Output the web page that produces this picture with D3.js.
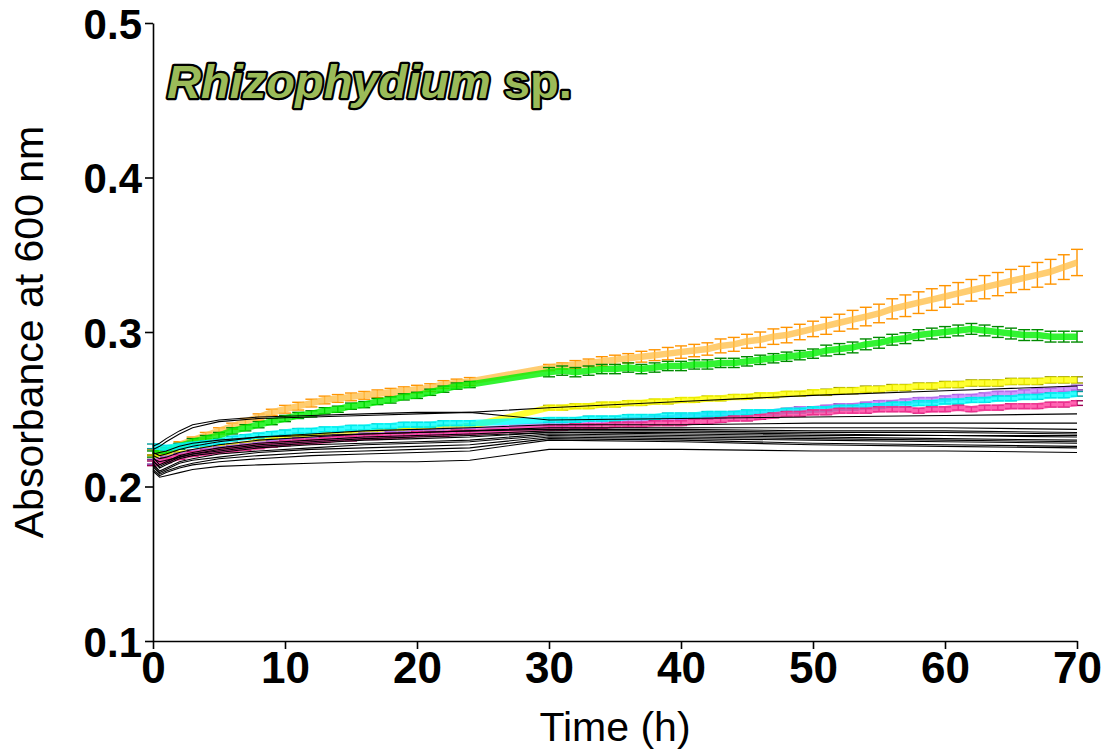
<!DOCTYPE html>
<html>
<head>
<meta charset="utf-8">
<script src="https://cdn.jsdelivr.net/npm/d3@7"></script>
<style>
  body { margin: 0; background: #fff; }
  text { font-family: "Liberation Sans", Arial, sans-serif; }
</style>
</head>
<body>
<svg width="1106" height="754"></svg>
<script>
// time points (h) of the coloured series, no readings between 24 and 30 h
var times = [0,1,2,3,4,5,6,7,8,9,10,11,12,13,14,15,16,17,18,19,20,21,22,23,24,
  30,31,32,33,34,35,36,37,38,39,40,41,42,43,44,45,46,47,48,49,50,
  51,52,53,54,55,56,57,58,59,60,61,62,63,64,65,66,67,68,69,70];

var orangeVals = [0.222,0.224,0.227,0.230,0.233,0.236,0.239,0.242,0.245,0.248,0.250,0.252,0.254,0.256,0.257,0.258,0.259,0.260,0.261,0.262,0.263,0.264,0.266,0.267,0.268,
  0.277,0.278,0.279,0.280,0.281,0.282,0.283,0.284,0.285,0.286,0.287,0.288,0.289,0.291,0.292,0.294,0.295,0.297,0.298,0.300,0.302,
  0.304,0.306,0.308,0.310,0.312,0.315,0.317,0.319,0.321,0.323,0.325,0.327,0.329,0.331,0.333,0.335,0.337,0.339,0.342,0.345];
var orangeErr = [0.002,0.002,0.002,0.002,0.002,0.002,0.002,0.002,0.002,0.002,0.0025,0.0025,0.0025,0.0025,0.0025,0.0025,0.0025,0.0025,0.0025,0.0025,0.0025,0.0025,0.0025,0.0025,0.0025,
  0.002,0.002,0.0025,0.0025,0.003,0.003,0.003,0.0035,0.0035,0.004,0.004,0.004,0.004,0.0045,0.0045,0.0045,0.005,0.005,0.005,0.005,0.005,
  0.0055,0.0055,0.006,0.006,0.006,0.0065,0.007,0.007,0.007,0.007,0.007,0.007,0.0075,0.0075,0.0075,0.0075,0.008,0.008,0.008,0.0085];

var greenVals = [0.221,0.223,0.226,0.229,0.231,0.233,0.236,0.238,0.240,0.242,0.244,0.246,0.247,0.249,0.250,0.252,0.253,0.255,0.256,0.258,0.259,0.261,0.263,0.265,0.266,
  0.274,0.275,0.274,0.275,0.276,0.276,0.277,0.276,0.277,0.278,0.278,0.279,0.279,0.280,0.280,0.281,0.282,0.283,0.284,0.285,0.286,
  0.288,0.289,0.290,0.292,0.293,0.295,0.296,0.298,0.299,0.300,0.301,0.302,0.301,0.300,0.299,0.298,0.298,0.297,0.297,0.297];
var greenErr = [0.002,0.002,0.002,0.002,0.002,0.002,0.002,0.002,0.002,0.002,0.002,0.002,0.002,0.002,0.002,0.002,0.002,0.002,0.002,0.002,0.002,0.002,0.002,0.002,0.002,
  0.003,0.003,0.003,0.003,0.003,0.003,0.003,0.003,0.003,0.003,0.003,0.003,0.003,0.003,0.003,0.003,0.003,0.003,0.003,0.003,0.003,
  0.0035,0.0035,0.0035,0.0035,0.0035,0.0035,0.0035,0.0035,0.0035,0.0035,0.0035,0.0035,0.0035,0.0035,0.0035,0.0035,0.0035,0.0035,0.0035,0.0035];

var yellowVals = [0.219,0.219,0.221,0.222,0.224,0.225,0.226,0.227,0.229,0.230,0.231,0.232,0.232,0.233,0.234,0.234,0.235,0.235,0.236,0.236,0.237,0.237,0.238,0.238,0.239,
  0.251,0.251,0.252,0.252,0.253,0.253,0.254,0.254,0.255,0.255,0.256,0.256,0.257,0.257,0.258,0.258,0.259,0.259,0.260,0.260,0.261,
  0.261,0.262,0.262,0.263,0.263,0.264,0.264,0.265,0.265,0.266,0.266,0.267,0.267,0.267,0.268,0.268,0.268,0.269,0.269,0.269];
var yellowErr = [0.0015,0.0015,0.0015,0.0015,0.0015,0.0015,0.0015,0.0015,0.0015,0.0015,0.0015,0.0015,0.0015,0.0015,0.0015,0.0015,0.0015,0.0015,0.0015,0.0015,0.0015,0.0015,0.0015,0.0015,0.0015,
  0.0015,0.0015,0.0015,0.0015,0.0015,0.0015,0.0015,0.0015,0.0015,0.0015,0.0015,0.0015,0.0015,0.0015,0.0015,0.0015,0.0015,0.0015,0.0015,0.0015,0.0015,
  0.002,0.002,0.002,0.002,0.002,0.002,0.002,0.002,0.002,0.002,0.002,0.002,0.002,0.002,0.002,0.002,0.002,0.002,0.002,0.002];

var purpleVals = [0.216,0.218,0.220,0.222,0.223,0.224,0.225,0.226,0.227,0.228,0.229,0.230,0.230,0.231,0.232,0.232,0.233,0.233,0.234,0.234,0.235,0.235,0.236,0.236,0.236,
  0.240,0.240,0.241,0.241,0.242,0.242,0.243,0.243,0.244,0.244,0.245,0.245,0.246,0.246,0.247,0.247,0.248,0.248,0.249,0.250,0.250,
  0.251,0.252,0.252,0.253,0.254,0.254,0.255,0.256,0.256,0.257,0.258,0.258,0.259,0.260,0.260,0.261,0.262,0.262,0.263,0.264];
var purpleErr = [0.0015,0.0015,0.0015,0.0015,0.0015,0.0015,0.0015,0.0015,0.0015,0.0015,0.0015,0.0015,0.0015,0.0015,0.0015,0.0015,0.0015,0.0015,0.0015,0.0015,0.0015,0.0015,0.0015,0.0015,0.0015,
  0.0015,0.0015,0.0015,0.0015,0.0015,0.0015,0.0015,0.0015,0.0015,0.0015,0.0015,0.0015,0.0015,0.0015,0.0015,0.0015,0.0015,0.0015,0.0015,0.0015,0.0015,
  0.0015,0.0015,0.0015,0.0015,0.0015,0.0015,0.0015,0.0015,0.0015,0.0015,0.0015,0.0015,0.0015,0.0015,0.0015,0.0015,0.0015,0.0015,0.0015,0.0015];

var cyanVals = [0.226,0.225,0.226,0.227,0.228,0.229,0.231,0.232,0.233,0.234,0.235,0.236,0.236,0.237,0.237,0.238,0.238,0.239,0.239,0.240,0.240,0.240,0.241,0.241,0.241,
  0.243,0.243,0.243,0.244,0.244,0.244,0.245,0.245,0.245,0.246,0.246,0.246,0.247,0.247,0.247,0.248,0.248,0.248,0.249,0.249,0.250,
  0.250,0.251,0.251,0.252,0.252,0.253,0.253,0.254,0.254,0.255,0.255,0.256,0.256,0.257,0.257,0.258,0.258,0.259,0.259,0.260];
var cyanErr = purpleErr;

var pinkVals = [0.215,0.217,0.219,0.221,0.222,0.223,0.224,0.225,0.226,0.227,0.228,0.229,0.229,0.230,0.231,0.231,0.232,0.232,0.233,0.233,0.234,0.234,0.234,0.235,0.235,
  0.238,0.238,0.239,0.239,0.239,0.240,0.240,0.240,0.241,0.241,0.241,0.242,0.242,0.243,0.244,0.244,0.245,0.246,0.247,0.247,0.248,
  0.248,0.249,0.249,0.249,0.250,0.250,0.250,0.249,0.250,0.250,0.251,0.250,0.251,0.251,0.252,0.252,0.252,0.253,0.253,0.254];
var pinkErr = purpleErr;

// time points (h) of the black control curves
var blackTimes = [0,0.5,1,2,3,5,8,12,16,20,24,30,40,50,60,70];
var blackLines = [
  [0.226,0.228,0.231,0.236,0.240,0.243,0.245,0.246,0.247,0.248,0.248,0.251,0.255,0.259,0.262,0.265],
  [0.224,0.226,0.229,0.234,0.238,0.242,0.244,0.245,0.246,0.247,0.248,0.243,0.244,0.245,0.246,0.247],
  [0.222,0.220,0.221,0.224,0.226,0.229,0.232,0.234,0.236,0.237,0.238,0.240,0.240,0.241,0.241,0.241],
  [0.220,0.218,0.219,0.222,0.224,0.227,0.230,0.232,0.234,0.235,0.236,0.238,0.238,0.238,0.238,0.237],
  [0.219,0.214,0.216,0.220,0.222,0.225,0.228,0.230,0.232,0.233,0.234,0.236,0.236,0.235,0.235,0.234],
  [0.218,0.216,0.217,0.219,0.221,0.223,0.226,0.228,0.230,0.231,0.232,0.235,0.234,0.233,0.233,0.232],
  [0.217,0.212,0.214,0.218,0.220,0.222,0.225,0.227,0.228,0.229,0.230,0.234,0.233,0.232,0.231,0.230],
  [0.215,0.210,0.212,0.216,0.218,0.221,0.223,0.225,0.227,0.228,0.229,0.233,0.232,0.231,0.230,0.229],
  [0.214,0.209,0.211,0.215,0.217,0.219,0.222,0.224,0.225,0.226,0.227,0.232,0.231,0.230,0.229,0.228],
  [0.213,0.208,0.210,0.213,0.215,0.218,0.220,0.222,0.223,0.224,0.225,0.231,0.230,0.228,0.227,0.226],
  [0.211,0.207,0.209,0.212,0.214,0.216,0.218,0.220,0.221,0.222,0.223,0.230,0.229,0.227,0.226,0.225],
  [0.210,0.206,0.207,0.209,0.211,0.213,0.214,0.215,0.216,0.216,0.217,0.224,0.224,0.223,0.223,0.222],
  [0.221,0.222,0.223,0.226,0.228,0.230,0.232,0.233,0.234,0.235,0.236,0.237,0.237,0.236,0.236,0.235],
  [0.216,0.213,0.215,0.219,0.221,0.224,0.227,0.229,0.231,0.232,0.233,0.235,0.235,0.234,0.233,0.233]
];

var xTicks = [0,10,20,30,40,50,60,70];
var yTicks = [0.1,0.2,0.3,0.4,0.5];

// colored series, drawn bottom to top (line colour, error bar colour)
var series = [
  {name: "orange", vals: orangeVals, err: orangeErr, line: "#FFC04D", bar: "#FF9400"},
  {name: "green", vals: greenVals, err: greenErr, line: "#00F000", bar: "#008A00"},
  {name: "yellow", vals: yellowVals, err: yellowErr, line: "#FFFF00", bar: "#9C9C00"},
  {name: "purple", vals: purpleVals, err: purpleErr, line: "#C77DFF", bar: "#7030A0"},
  {name: "cyan", vals: cyanVals, err: cyanErr, line: "#00FFFF", bar: "#009C9C"},
  {name: "pink", vals: pinkVals, err: pinkErr, line: "#FF3D9E", bar: "#9C0052"}
];

var svg = d3.select("svg"),
  margin = {top: 23, right: 29, bottom: 113, left: 153},
  width = +svg.attr("width") - margin.left - margin.right,
  height = +svg.attr("height") - margin.top - margin.bottom;

var x = d3.scaleLinear().domain([0, 70]).range([0, width]),
  y = d3.scaleLinear().domain([0.1, 0.5]).range([height, 0]);

var g = svg.append("g").attr("transform", "translate(" + margin.left + "," + margin.top + ")");

var line = d3.line()
  .x(function(d) { return x(d.t); })
  .y(function(d) { return y(d.v); });

var capW = 6;

series.forEach(function(s) {
  var pts = times.map(function(t, i) {
    return {t: t, v: s.vals[i], e: s.err[i]};
  });
  var sg = g.append("g").attr("class", "series " + s.name);

  // error bars with caps
  var eb = sg.selectAll(".eb").data(pts).enter().append("g").attr("class", "eb")
    .attr("stroke", s.bar).attr("stroke-width", 1.4);
  eb.append("line")
    .attr("x1", function(d) { return x(d.t); }).attr("x2", function(d) { return x(d.t); })
    .attr("y1", function(d) { return y(d.v - d.e); }).attr("y2", function(d) { return y(d.v + d.e); });
  eb.append("line")
    .attr("x1", function(d) { return x(d.t) - capW; }).attr("x2", function(d) { return x(d.t) + capW; })
    .attr("y1", function(d) { return y(d.v + d.e); }).attr("y2", function(d) { return y(d.v + d.e); });
  eb.append("line")
    .attr("x1", function(d) { return x(d.t) - capW; }).attr("x2", function(d) { return x(d.t) + capW; })
    .attr("y1", function(d) { return y(d.v - d.e); }).attr("y2", function(d) { return y(d.v - d.e); });

  // thick mean line
  sg.append("path").datum(pts)
    .attr("fill", "none")
    .attr("stroke", s.line)
    .attr("stroke-width", 6.5)
    .attr("stroke-opacity", 0.8)
    .attr("stroke-linejoin", "round")
    .attr("d", line);
});

// thin black control curves on top
g.selectAll(".ctrl").data(blackLines).enter().append("path")
  .attr("class", "ctrl")
  .attr("fill", "none")
  .attr("stroke", "#000")
  .attr("stroke-width", 1.1)
  .attr("d", function(vals) {
    return line(blackTimes.map(function(t, i) { return {t: t, v: vals[i]}; }));
  });

// axes
var xAxis = g.append("g").attr("class", "axis axis--x")
  .attr("transform", "translate(0," + height + ")")
  .call(d3.axisBottom(x).tickValues(xTicks).tickSize(8).tickSizeOuter(0).tickPadding(3));
var yAxis = g.append("g").attr("class", "axis axis--y")
  .call(d3.axisLeft(y).tickValues(yTicks).tickFormat(d3.format(".1f")).tickSize(8).tickSizeOuter(0).tickPadding(3));

svg.selectAll(".axis path, .axis line").attr("stroke", "#000").attr("stroke-width", 1.6);
svg.selectAll(".axis text")
  .attr("fill", "#000")
  .style("font-family", "'Liberation Sans', Arial, sans-serif")
  .style("font-size", "42px")
  .style("font-weight", "bold");
xAxis.selectAll("text").style("font-size", "44px");
yAxis.selectAll("text").attr("dy", "0.36em");

// axis titles
svg.append("text")
  .attr("transform", "translate(43," + (margin.top + height / 2) + ") rotate(-90)")
  .attr("text-anchor", "middle")
  .style("font-size", "41px")
  .text("Absorbance at 600 nm");

svg.append("text")
  .attr("x", margin.left + width / 2)
  .attr("y", 741)
  .attr("text-anchor", "middle")
  .style("font-size", "41px")
  .text("Time (h)");

// organism label
var title = svg.append("text")
  .attr("x", 167)
  .attr("y", 98)
  .style("font-size", "47px")
  .style("font-weight", "bold")
  .attr("fill", "#9BBB59")
  .attr("stroke", "#000")
  .attr("stroke-width", 4.5)
  .attr("stroke-linejoin", "round")
  .style("paint-order", "stroke");
title.append("tspan").style("font-style", "italic").text("Rhizophydium");
title.append("tspan").style("font-style", "normal").text(" sp.");
</script>
</body>
</html>
